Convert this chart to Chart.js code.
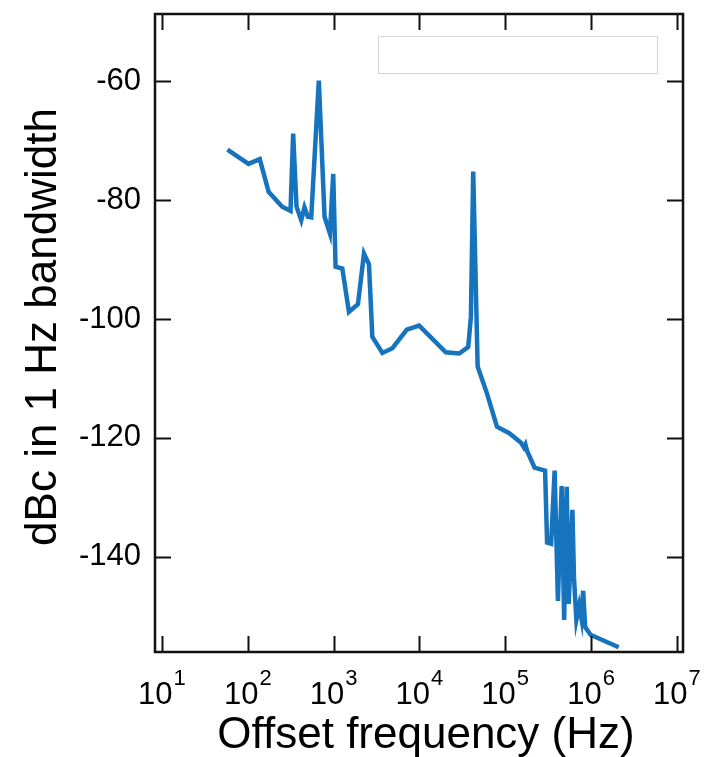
<!DOCTYPE html>
<html>
<head>
<meta charset="utf-8">
<title>Phase noise</title>
<script src="https://cdn.jsdelivr.net/npm/chart.js@4.4.1/dist/chart.umd.min.js"></script>
<style>
  html, body { margin: 0; padding: 0; background: #fff; }
  #chart { display: block; }
</style>
</head>
<body>
<canvas id="chart" width="706" height="757"></canvas>
<script>
// offset frequency (Hz) and level (dBc in 1 Hz)
const offsetHz = [
  58, 102, 138, 175, 252, 315, 338, 370, 420, 458, 501, 549, 673, 785, 906, 991,
  1055, 1264, 1510, 1923, 2261, 2585, 2830, 3705, 4850, 7130, 9930,
  20340, 29100, 37080, 39840, 42380, 47730, 61240, 80150,
  111600, 153000, 165000, 172000, 180000, 219800, 291600, 307600, 342800, 376700,
  411500, 454600, 486600, 520500, 549500, 607000, 633000, 675000, 728000,
  774000, 810000, 855000, 986000, 2100000
];
const levelDbc = [
  -71.5, -73.9, -73.1, -78.6, -81.1, -81.8, -68.8, -81.1, -83.4, -81.2, -82.8, -82.9, -59.9, -82.8, -85.6, -75.6,
  -91.2, -91.5, -98.8, -97.5, -89.0, -90.8, -103.0, -105.7, -104.9, -101.8, -101.1,
  -105.6, -105.8, -104.7, -99.6, -75.2, -108.0, -112.5, -118.1,
  -119.2, -120.8, -121.6, -121.1, -122.2, -125.0, -125.5, -137.6, -137.8, -125.5,
  -147.4, -128.1, -150.6, -128.2, -147.9, -132.1, -143.5, -150.6, -148.2,
  -150.4, -145.7, -151.8, -153.1, -155.2
];

const xTickValues = [1e1, 1e2, 1e3, 1e4, 1e5, 1e6, 1e7];
const yTickValues = [-140, -120, -100, -80, -60];
const xRange = [8.3, 1.18e7];
const yRange = [-156, -48.7];

const xTitle = "Offset frequency (Hz)";
const yTitle = "dBc in 1 Hz bandwidth";

const FONT = "'Liberation Sans', Arial, sans-serif";

// box, inward ticks, power-of-ten labels, titles, empty legend frame
const framePlugin = {
  id: "frame",
  afterDraw(chart) {
    const { ctx, chartArea: a, scales } = chart;
    const xs = scales.x, ys = scales.y;
    const tick = 16;
    ctx.save();
    ctx.strokeStyle = "#111";
    ctx.lineWidth = 2;

    ctx.beginPath();
    xTickValues.forEach((v) => {
      const px = Math.round(xs.getPixelForValue(v)) + 0.5;
      ctx.moveTo(px, a.bottom); ctx.lineTo(px, a.bottom - tick);
      ctx.moveTo(px, a.top); ctx.lineTo(px, a.top + tick);
    });
    yTickValues.forEach((v) => {
      const py = Math.round(ys.getPixelForValue(v)) + 0.5;
      ctx.moveTo(a.left, py); ctx.lineTo(a.left + tick, py);
      ctx.moveTo(a.right, py); ctx.lineTo(a.right - tick, py);
    });
    ctx.stroke();

    ctx.lineWidth = 2.5;
    ctx.strokeRect(a.left, a.top, a.right - a.left, a.bottom - a.top);

    // empty legend frame
    ctx.lineWidth = 1;
    ctx.strokeStyle = "#d6d6d6";
    ctx.strokeRect(378.5, 36.5, 279, 37);

    // x tick labels as 10^n
    ctx.fillStyle = "#000";
    ctx.textBaseline = "alphabetic";
    ctx.textAlign = "left";
    xTickValues.forEach((v) => {
      const px = xs.getPixelForValue(v);
      const exp = String(Math.round(Math.log10(v)));
      ctx.font = "31px " + FONT;
      const wBase = ctx.measureText("10").width;
      ctx.font = "22px " + FONT;
      const wExp = ctx.measureText(exp).width;
      const start = px - (wBase + wExp + 1) / 2;
      ctx.font = "31px " + FONT;
      ctx.fillText("10", start, 704);
      ctx.font = "22px " + FONT;
      ctx.fillText(exp, start + wBase + 1, 685);
    });

    // axis titles
    ctx.font = "44px " + FONT;
    ctx.textAlign = "center";
    ctx.fillText(xTitle, (a.left + a.right) / 2 + 7, 748);
    ctx.translate(56, 327);
    ctx.rotate(-Math.PI / 2);
    ctx.fillText(yTitle, 0, 0);
    ctx.restore();
  }
};

new Chart(document.getElementById("chart"), {
  type: "line",
  data: {
    datasets: [{
      label: "phase noise",
      data: offsetHz.map((f, i) => ({ x: f, y: levelDbc[i] })),
      borderColor: "#1673BE",
      borderWidth: 4.5,
      pointRadius: 0,
      tension: 0,
      fill: false
    }]
  },
  options: {
    responsive: false,
    animation: false,
    devicePixelRatio: 1,
    layout: { padding: { top: 14, right: 23, left: 0, bottom: 0 } },
    plugins: { legend: { display: false }, tooltip: { enabled: false } },
    scales: {
      x: {
        type: "logarithmic",
        min: xRange[0],
        max: xRange[1],
        grid: { display: false, drawTicks: false },
        border: { display: false },
        ticks: { display: false },
        afterBuildTicks: (s) => { s.ticks = xTickValues.map((v) => ({ value: v })); },
        afterFit: (s) => { s.height = 105; s.paddingLeft = 0; s.paddingRight = 0; }
      },
      y: {
        type: "linear",
        min: yRange[0],
        max: yRange[1],
        grid: { display: false, drawTicks: false },
        border: { display: false },
        ticks: {
          color: "#000",
          padding: 14,
          font: { family: FONT, size: 31 }
        },
        afterBuildTicks: (s) => { s.ticks = yTickValues.map((v) => ({ value: v })); },
        afterFit: (s) => { s.width = 155; s.paddingTop = 0; s.paddingBottom = 0; }
      }
    }
  },
  plugins: [framePlugin]
});
</script>
</body>
</html>
